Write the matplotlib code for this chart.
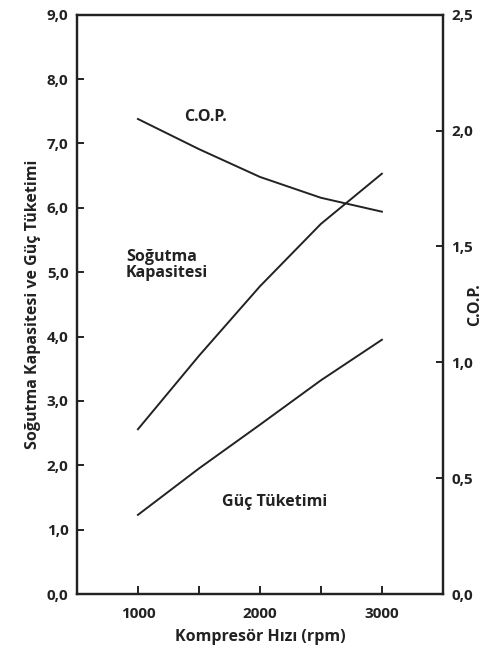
import matplotlib
matplotlib.use('Agg')
import matplotlib.pyplot as plt
from matplotlib.ticker import FuncFormatter

plt.rcParams['font.family'] = ['Open Sans', 'DejaVu Sans']
plt.rcParams['font.weight'] = 'bold'
plt.rcParams['axes.labelweight'] = 'bold'

# readings from the chart
rpm = [1000, 1500, 2000, 2500, 3000]
cooling_capacity = [2.56, 3.70, 4.78, 5.75, 6.53]
power_use = [1.23, 1.95, 2.63, 3.32, 3.95]
cop = [2.05, 1.92, 1.80, 1.71, 1.65]

left_ticks = [0, 1, 2, 3, 4, 5, 6, 7, 8, 9]
right_ticks = [0, 0.5, 1.0, 1.5, 2.0, 2.5]
x_ticks = [1000, 1500, 2000, 2500, 3000]
x_labels = ['1000', '', '2000', '', '3000']

INK = '#222222'


def comma(v, _pos):
    return f'{v:.1f}'.replace('.', ',')


fig = plt.figure(figsize=(4.84, 6.48), dpi=100)
ax = fig.add_axes([0.159, 0.0833, 0.756, 0.894])
ax2 = ax.twinx()

ax.plot(rpm, cooling_capacity, color=INK, lw=1.4)
ax.plot(rpm, power_use, color=INK, lw=1.4)
ax2.plot(rpm, cop, color=INK, lw=1.4)

ax.set_xlim(500, 3500)
ax.set_ylim(0, 9)
ax2.set_ylim(0, 2.5)

ax.set_xticks(x_ticks)
ax.set_xticklabels(x_labels)
ax.set_yticks(left_ticks)
ax.yaxis.set_major_formatter(FuncFormatter(comma))
ax2.set_yticks(right_ticks)
ax2.yaxis.set_major_formatter(FuncFormatter(comma))

for a in (ax, ax2):
    for s in a.spines.values():
        s.set_linewidth(1.6)
        s.set_color(INK)
    a.tick_params(direction='in', length=5, width=1.4, color=INK,
                  labelsize=11, labelcolor=INK, pad=6)
ax.tick_params(axis='x', length=6, pad=9)

ax.set_xlabel('Kompresör Hızı (rpm)', fontsize=11.5, color=INK, labelpad=6)
ax.set_ylabel('Soğutma Kapasitesi ve Güç Tüketimi', fontsize=11.5, color=INK, labelpad=4)
ax2.set_ylabel('C.O.P.', fontsize=11.5, color=INK)
# right label sits at the figure edge, as in the source
ax2.yaxis.set_label_coords(1.066, 0.5)

ax.text(1557, 7.41, 'C.O.P.', fontsize=11.5, color=INK, ha='center', va='center')
ax.text(902, 5.11, 'Soğutma\nKapasitesi', fontsize=11.5, color=INK,
        ha='left', va='center', linespacing=1.05)
ax.text(2123, 1.43, 'Güç Tüketimi', fontsize=11.5, color=INK, ha='center', va='center')

fig.savefig('out.png', dpi=100)
